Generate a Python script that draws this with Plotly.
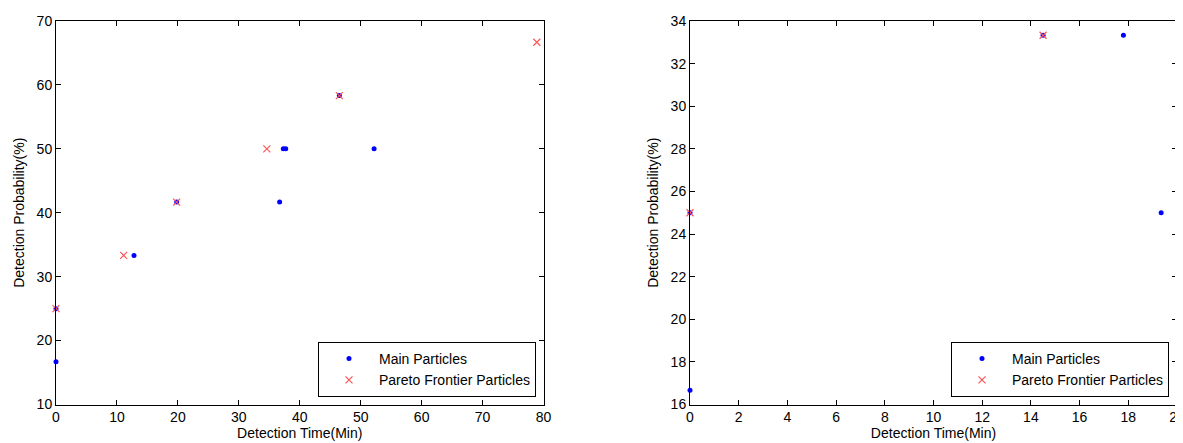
import plotly.graph_objects as go

# Left panel data
left_main_x = [0, 0, 12.8, 19.8, 36.7, 37.3, 37.7, 46.5, 52.2]
left_main_y = [16.67, 25, 33.33, 41.67, 41.67, 50, 50, 58.33, 50]
left_pareto_x = [0, 11.1, 19.8, 34.6, 46.5, 78.9]
left_pareto_y = [25, 33.33, 41.67, 50, 58.33, 66.67]

# Right panel data
right_main_x = [0, 0, 14.5, 17.8, 19.35]
right_main_y = [16.67, 25, 33.33, 33.33, 25]
right_pareto_x = [0, 14.5]
right_pareto_y = [25, 33.33]

FONT = "Liberation Sans, Arial, sans-serif"
BLUE = "#0000ff"
RED = "#ff5555"

fig = go.Figure()

def main_trace(x, y, xa, ya, lg):
    return go.Scatter(x=x, y=y, mode="markers", name="Main Particles",
                      xaxis=xa, yaxis=ya, legend=lg, cliponaxis=False,
                      marker=dict(symbol="circle", size=5, color=BLUE))

def pareto_trace(x, y, xa, ya, lg):
    return go.Scatter(x=x, y=y, mode="markers", name="Pareto Frontier Particles",
                      xaxis=xa, yaxis=ya, legend=lg, cliponaxis=False,
                      marker=dict(symbol="x-thin", size=7, color=RED,
                                  line=dict(width=1.2, color=RED)))

fig.add_trace(main_trace(left_main_x, left_main_y, "x", "y", "legend"))
fig.add_trace(pareto_trace(left_pareto_x, left_pareto_y, "x", "y", "legend"))
fig.add_trace(main_trace(right_main_x, right_main_y, "x2", "y2", "legend2"))
fig.add_trace(pareto_trace(right_pareto_x, right_pareto_y, "x2", "y2", "legend2"))

# page has an 8px body margin; figure placed at (8, 8)
OFF = 8
W, H = 1183 - OFF, 443 - OFF

def px_x(p):
    return (p - OFF) / W

def px_y(p):
    return 1 - (p - OFF) / H

axis_common = dict(showgrid=False, zeroline=False, showline=True, linecolor="black",
                   linewidth=1, mirror="ticks", ticks="inside", ticklen=5,
                   tickcolor="black", tickfont=dict(family=FONT, size=14, color="black"),
                   title_font=dict(family=FONT, size=14, color="black"),
                   automargin=False, ticklabeloverflow="allow")

legend_common = dict(bgcolor="white", bordercolor="black", borderwidth=1,
                     font=dict(family=FONT, size=14, color="black"),
                     xanchor="right", yanchor="bottom", itemwidth=50,
                     tracegroupgap=0)

fig.update_layout(
    width=W, height=H,
    margin=dict(l=0, r=0, t=0, b=0, autoexpand=False),
    paper_bgcolor="white", plot_bgcolor="white",
    font=dict(family=FONT, size=14, color="black"),
    xaxis=dict(domain=[px_x(56), px_x(543.5)], range=[0, 80], dtick=10, tick0=0,
               title=dict(text="Detection Time(Min)", standoff=2), anchor="y", **axis_common),
    yaxis=dict(domain=[px_y(404.5), px_y(21)], range=[10, 70], dtick=10, tick0=0,
               title=dict(text="Detection Probability(%)", standoff=8), anchor="x", **axis_common),
    xaxis2=dict(domain=[px_x(690), px_x(1177)], range=[0, 20], dtick=2, tick0=0,
                title=dict(text="Detection Time(Min)", standoff=2), anchor="y2", **axis_common),
    yaxis2=dict(domain=[px_y(404.5), px_y(21)], range=[16, 34], dtick=2, tick0=0,
                title=dict(text="Detection Probability(%)", standoff=8), anchor="x2", **axis_common),
    legend=dict(x=px_x(536), y=px_y(397), **legend_common),
    legend2=dict(x=px_x(1169), y=px_y(397), **legend_common),
)

fig.write_html("out.html")
